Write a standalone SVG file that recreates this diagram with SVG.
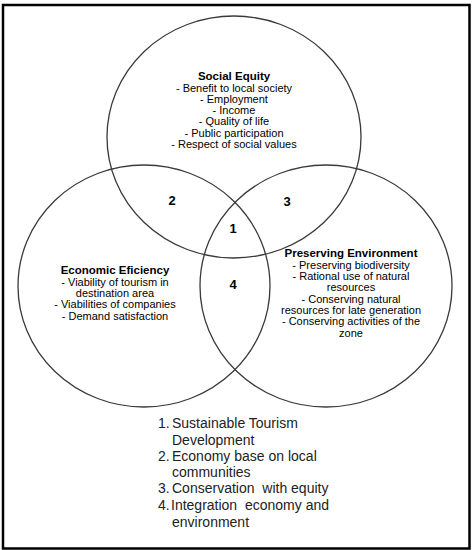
<svg xmlns="http://www.w3.org/2000/svg" width="472" height="550" viewBox="0 0 472 550">
<style>
.ring{fill:none;stroke:#3a3a3a;stroke-width:1.3}
.t{font-family:"Liberation Sans",Arial,sans-serif;font-size:11px;fill:#000;text-anchor:middle}
.h{font-weight:bold;font-size:11.5px}
.n{font-family:"Liberation Sans",Arial,sans-serif;font-size:13px;font-weight:bold;fill:#000;text-anchor:middle}
.l{font-family:"Liberation Sans",Arial,sans-serif;font-size:14px;fill:#222}
</style>
<rect x="3" y="5" width="466.5" height="543.5" fill="#fff" stroke="#000" stroke-width="2.5"/>
<g id="connectors"></g>
<g id="social-equity">
<ellipse class="ring" cx="234" cy="137" rx="127" ry="121"/>
<text class="t h" x="234" y="80">Social Equity</text>
<text class="t" x="234" y="91.5">- Benefit to local society</text>
<text class="t" x="234" y="102.8">- Employment</text>
<text class="t" x="234" y="114">- Income</text>
<text class="t" x="234" y="125.3">- Quality of life</text>
<text class="t" x="234" y="136.6">- Public participation</text>
<text class="t" x="234" y="148">- Respect of social values</text>
</g>
<g id="economic-efficiency">
<ellipse class="ring" cx="144" cy="286" rx="126" ry="121"/>
<text class="t h" x="115" y="274">Economic Eficiency</text>
<text class="t" x="115" y="285.5">- Viability of tourism in</text>
<text class="t" x="115" y="297">destination area</text>
<text class="t" x="115" y="308.3">- Viabilities of companies</text>
<text class="t" x="115" y="319.6">- Demand satisfaction</text>
</g>
<g id="preserving-environment">
<ellipse class="ring" cx="326" cy="286" rx="126" ry="121"/>
<text class="t h" x="351" y="257">Preserving Environment</text>
<text class="t" x="351" y="268.5">- Preserving biodiversity</text>
<text class="t" x="351" y="280">- Rational use of natural</text>
<text class="t" x="351" y="291.3">resources</text>
<text class="t" x="351" y="302.6">- Conserving natural</text>
<text class="t" x="351" y="314">resources for late generation</text>
<text class="t" x="351" y="325.4">- Conserving activities of the</text>
<text class="t" x="351" y="336.8">zone</text>
</g>
<g id="region-1"><text class="n" x="233" y="233">1</text></g>
<g id="region-2"><text class="n" x="172" y="205">2</text></g>
<g id="region-3"><text class="n" x="287" y="206">3</text></g>
<g id="region-4"><text class="n" x="233" y="289">4</text></g>
<g id="legend">
<text class="l" x="158" y="428.3">1.</text>
<text class="l" x="172" y="428.3">Sustainable Tourism</text>
<text class="l" x="172" y="444.5">Development</text>
<text class="l" x="158" y="461">2.</text>
<text class="l" x="172" y="461">Economy base on local</text>
<text class="l" x="172" y="477">communities</text>
<text class="l" x="158" y="493.3">3.</text>
<text class="l" x="172" y="493.3" xml:space="preserve">Conservation  with equity</text>
<text class="l" x="158" y="510">4.</text>
<text class="l" x="171" y="510" xml:space="preserve">Integration  economy and</text>
<text class="l" x="172" y="526.5">environment</text>
</g>
</svg>
